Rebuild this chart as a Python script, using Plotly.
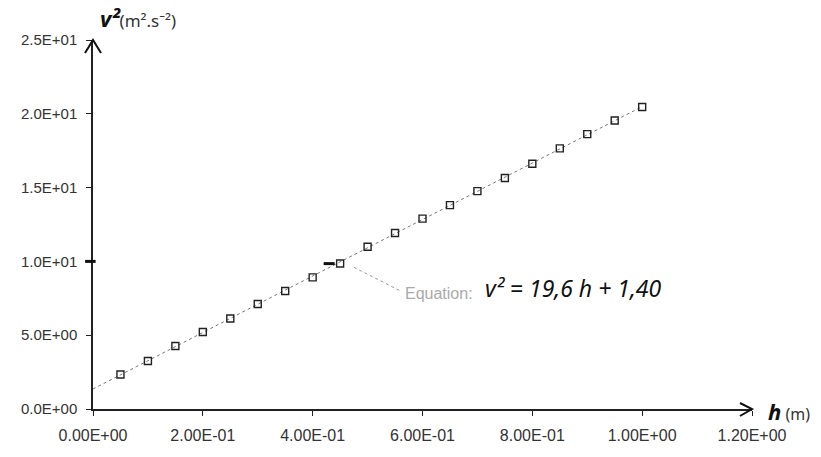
import numpy as np
import plotly.graph_objects as go

h_vals = [0.05, 0.10, 0.15, 0.20, 0.25, 0.30, 0.35, 0.40, 0.45, 0.50,
          0.55, 0.60, 0.65, 0.70, 0.75, 0.80, 0.85, 0.90, 0.95, 1.00]
v2_vals = [2.34, 3.25, 4.27, 5.22, 6.13, 7.11, 7.99, 8.92, 9.86, 10.99,
           11.92, 12.90, 13.81, 14.76, 15.65, 16.62, 17.66, 18.62, 19.55, 20.46]
x_ticks = [0.0, 0.2, 0.4, 0.6, 0.8, 1.0, 1.2]
x_tick_labels = ["0.00E+00", "2.00E-01", "4.00E-01", "6.00E-01", "8.00E-01", "1.00E+00", "1.20E+00"]
y_ticks = [0, 5, 10, 15, 20, 25]
y_tick_labels = ["0.0E+00", "5.0E+00", "1.0E+01", "1.5E+01", "2.0E+01", "2.5E+01"]

slope, intercept = np.polyfit(h_vals, v2_vals, 1)
trend_x = [0.0, max(h_vals)]
trend_y = [intercept + slope * x for x in trend_x]

fig = go.Figure()
fig.add_trace(go.Scatter(x=trend_x, y=trend_y, mode="lines",
                         line=dict(color="#777777", width=1, dash="dot"),
                         hoverinfo="skip", showlegend=False))
fig.add_trace(go.Scatter(x=h_vals, y=v2_vals, mode="markers",
                         marker=dict(symbol="square-open", size=7, color="#222222",
                                     line=dict(width=1.4, color="#222222")),
                         showlegend=False))

tick_font = dict(family="Liberation Sans, Arial, sans-serif", size=15, color="#333333")
xtick_font = dict(family="Liberation Sans, Arial, sans-serif", size=16, color="#333333")

fig.update_layout(
    width=821, height=457,
    margin=dict(l=93, r=69, t=40, b=48),
    plot_bgcolor="white", paper_bgcolor="white",
    xaxis=dict(range=[0, 1.2], tickvals=x_ticks, ticktext=x_tick_labels,
               showgrid=False, zeroline=False, showline=True, linecolor="#222222",
               linewidth=1.5, ticks="outside", ticklen=5, tickcolor="#222222",
               tickfont=xtick_font, ticklabelstandoff=6),
    yaxis=dict(range=[0, 25], tickvals=y_ticks, ticktext=y_tick_labels,
               showgrid=False, zeroline=False, showline=True, linecolor="#222222",
               linewidth=1.5, ticks="outside", ticklen=5, tickcolor="#222222",
               tickfont=tick_font, ticklabelstandoff=6),
)

# arrow heads on axes (paper-referenced so they are not clipped)
fig.add_shape(type="path", xref="paper", yref="paper", xsizemode="pixel", ysizemode="pixel",
              xanchor=0, yanchor=1, path="M -8,-13 L 0,0 L 8,-13",
              line=dict(color="#111111", width=2))
fig.add_shape(type="path", xref="paper", yref="paper", xsizemode="pixel", ysizemode="pixel",
              xanchor=1, yanchor=0, path="M -12,6 L 0,0 L -12,-7",
              line=dict(color="#111111", width=2))
# handwritten marks
fig.add_shape(type="line", xref="paper", yref="y", x0=-0.012, x1=0.004, y0=10, y1=10,
              line=dict(color="#111111", width=3))
fig.add_shape(type="line", xref="x", yref="y", x0=0.42, x1=0.44, y0=9.85, y1=9.85,
              line=dict(color="#111111", width=3))

# leader line for equation
fig.add_shape(type="line", xref="x", yref="y", x0=0.475, y0=9.6, x1=0.56, y1=8.0,
              line=dict(color="#999999", width=1, dash="dot"))

fig.add_annotation(x=0.565, y=7.8, xref="x", yref="y", xanchor="left", yanchor="middle",
                   showarrow=False, text="Equation:",
                   font=dict(family="Liberation Sans, Arial, sans-serif", size=16, color="#aaaaaa"))
fig.add_annotation(x=0.71, y=8.2, xref="x", yref="y", xanchor="left", yanchor="middle",
                   showarrow=False, text="<i>v² = 19,6 h + 1,40</i>",
                   font=dict(family="Noto Sans, sans-serif", size=23, color="#111111"))

# axis titles
fig.add_annotation(x=0.008, y=1.0, xref="paper", yref="paper", xanchor="left", yanchor="bottom",
                   showarrow=False, yshift=5,
                   text="<b><i>v²</i></b><span style='font-size:17px;color:#333'>(m².s⁻²)</span>",
                   font=dict(family="Noto Sans, sans-serif", size=22, color="#111111"))
fig.add_annotation(x=1.0, y=0, xref="paper", yref="paper", xanchor="left", yanchor="middle",
                   showarrow=False, xshift=14, yshift=-2,
                   text="<b><i>h</i></b><span style='font-size:16px;color:#333'> (m)</span>",
                   font=dict(family="Noto Sans, sans-serif", size=22, color="#111111"))

fig.write_html("out.html", config={"displayModeBar": False},
               post_script="document.body.style.margin='0';document.body.style.overflow='hidden';")
